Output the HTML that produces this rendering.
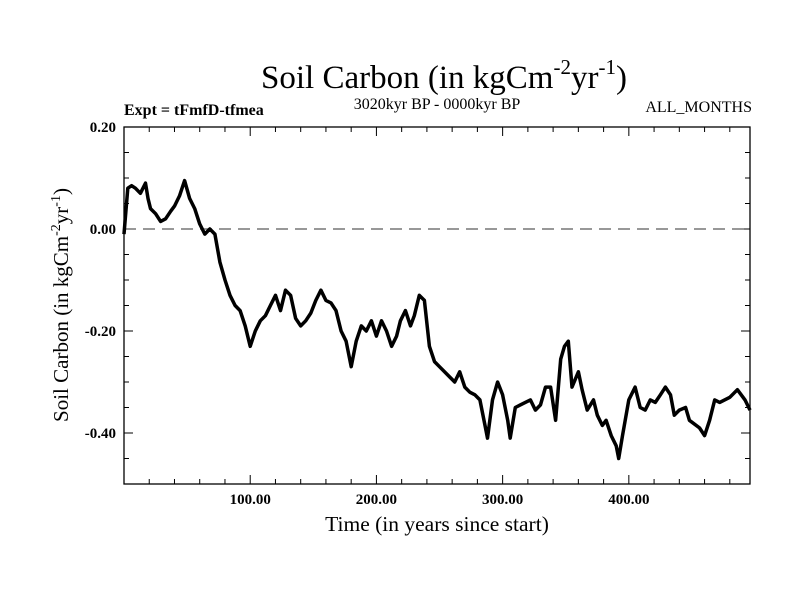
<!DOCTYPE html>
<html><head><meta charset="utf-8"><style>
body{margin:0;background:#fff;}
svg text{font-family:"Liberation Serif",serif;fill:#000;}
</style></head><body>
<svg id="chart" width="800" height="600" xmlns="http://www.w3.org/2000/svg">
<text x="444" y="88" font-size="33" text-anchor="middle">Soil Carbon (in kgCm<tspan font-size="21" dy="-14">-2</tspan><tspan dy="14">yr</tspan><tspan font-size="21" dy="-14">-1</tspan><tspan dy="14">)</tspan></text>
<text x="124" y="115" font-size="16" font-weight="bold">Expt = tFmfD-tfmea</text>
<text x="437" y="109" font-size="16" text-anchor="middle">3020kyr BP - 0000kyr BP</text>
<text x="752" y="112" font-size="16" text-anchor="end">ALL_MONTHS</text>
<text x="437" y="531" font-size="21.5" text-anchor="middle">Time (in years since start)</text>
<text transform="translate(68,305) rotate(-90)" font-size="21" text-anchor="middle">Soil Carbon (in kgCm<tspan font-size="14" dy="-8">-2</tspan><tspan dy="8">yr</tspan><tspan font-size="14" dy="-8">-1</tspan><tspan dy="8">)</tspan></text>
<g id="axes"></g>
<g id="marks"></g>
</svg>
<script>
const years=[0,3,6,9,13,17,19,21,25,29,33,37,40,44,48,52,56,60,64,68,72,76,80,84,88,92,96,100,104,108,112,116,120,124,128,132,136,140,144,148,152,156,160,164,168,172,176,180,184,188,192,196,200,204,208,212,216,219,223,227,230,234,238,242,246,250,258,262,266,270,274,278,282,286,288,292,296,300,304,306,310,314,318,322,326,330,334,338,342,346,349,352,355,360,363,367,372,375,379,382,386,390,392,395,400,405,409,413,417,421,425,429,433,436,440,445,448,456,460,464,468,472,480,486,492,496];
const values=[-0.01,0.08,0.085,0.08,0.07,0.09,0.06,0.04,0.03,0.015,0.02,0.035,0.045,0.065,0.095,0.06,0.04,0.01,-0.01,0.0,-0.01,-0.065,-0.10,-0.13,-0.15,-0.16,-0.19,-0.23,-0.20,-0.18,-0.17,-0.15,-0.13,-0.16,-0.12,-0.13,-0.175,-0.19,-0.18,-0.165,-0.14,-0.12,-0.14,-0.145,-0.16,-0.20,-0.22,-0.27,-0.22,-0.19,-0.20,-0.18,-0.21,-0.18,-0.20,-0.23,-0.21,-0.18,-0.16,-0.19,-0.17,-0.13,-0.14,-0.23,-0.26,-0.27,-0.29,-0.30,-0.28,-0.31,-0.32,-0.325,-0.335,-0.385,-0.41,-0.335,-0.30,-0.325,-0.375,-0.41,-0.35,-0.345,-0.34,-0.335,-0.355,-0.345,-0.31,-0.31,-0.375,-0.255,-0.23,-0.22,-0.31,-0.28,-0.315,-0.355,-0.335,-0.365,-0.385,-0.375,-0.405,-0.425,-0.45,-0.405,-0.335,-0.31,-0.35,-0.355,-0.335,-0.34,-0.325,-0.31,-0.325,-0.365,-0.355,-0.35,-0.375,-0.39,-0.405,-0.375,-0.335,-0.34,-0.33,-0.315,-0.335,-0.355];
const xTicks=[100,200,300,400];
const xTickLabels=["100.00","200.00","300.00","400.00"];
const yTicks=[0.2,0,-0.2,-0.4];
const yTickLabels=["0.20","0.00","-0.20","-0.40"];
const X0=124,X1=750,Y0=127,Y1=484,XMIN=0,XMAX=496,YMAX=0.2,YMIN=-0.5;
const sx=v=>X0+(v-XMIN)/(XMAX-XMIN)*(X1-X0);
const sy=v=>Y0+(YMAX-v)/(YMAX-YMIN)*(Y1-Y0);
const NS="http://www.w3.org/2000/svg";
const axes=document.getElementById('axes'),marks=document.getElementById('marks');
function mk(tag,attrs,parent){const e=document.createElementNS(NS,tag);for(const k in attrs)e.setAttribute(k,attrs[k]);parent.appendChild(e);return e;}
const frame=mk('rect',{x:X0,y:Y0,width:X1-X0,height:Y1-Y0,fill:'none',stroke:'#000','stroke-width':1.3},axes);


for(let v=20;v<XMAX;v+=20){const big=v%100===0;const L=big?9:5;const x=sx(v);
 const t=mk('path',{d:`M${x},${Y1}V${Y1-L}M${x},${Y0}V${Y0+L}`,stroke:'#000','stroke-width':1},axes);
 
 }
for(let v=-0.45;v<0.2;v+=0.05){const r=Math.round(v*100);const big=r%20===0;const L=big?9:5;const y=sy(r/100);
 const t=mk('path',{d:`M${X0},${y}H${X0+L}M${X1},${y}H${X1-L}`,stroke:'#000','stroke-width':1},axes);
 
 }
xTicks.forEach((v,i)=>{const t=mk('text',{x:sx(v),y:Y1+20,'font-size':15,'font-weight':'bold','text-anchor':'middle'},axes);t.textContent=xTickLabels[i];
 
 });
yTicks.forEach((v,i)=>{const t=mk('text',{x:X0-8,y:sy(v)+5,'font-size':15,'font-weight':'bold','text-anchor':'end'},axes);t.textContent=yTickLabels[i];
 
 });
const zero=mk('line',{x1:X0,x2:X1,y1:sy(0),y2:sy(0),stroke:'#777','stroke-width':1.5,'stroke-dasharray':'12,7'},marks);


const d=years.map((v,i)=>(i?'L':'M')+sx(v).toFixed(1)+','+sy(values[i]).toFixed(1)).join('');
const line=mk('path',{d:d,fill:'none',stroke:'#000','stroke-width':3.5,'stroke-linejoin':'round'},marks);


</script>
</body></html>
